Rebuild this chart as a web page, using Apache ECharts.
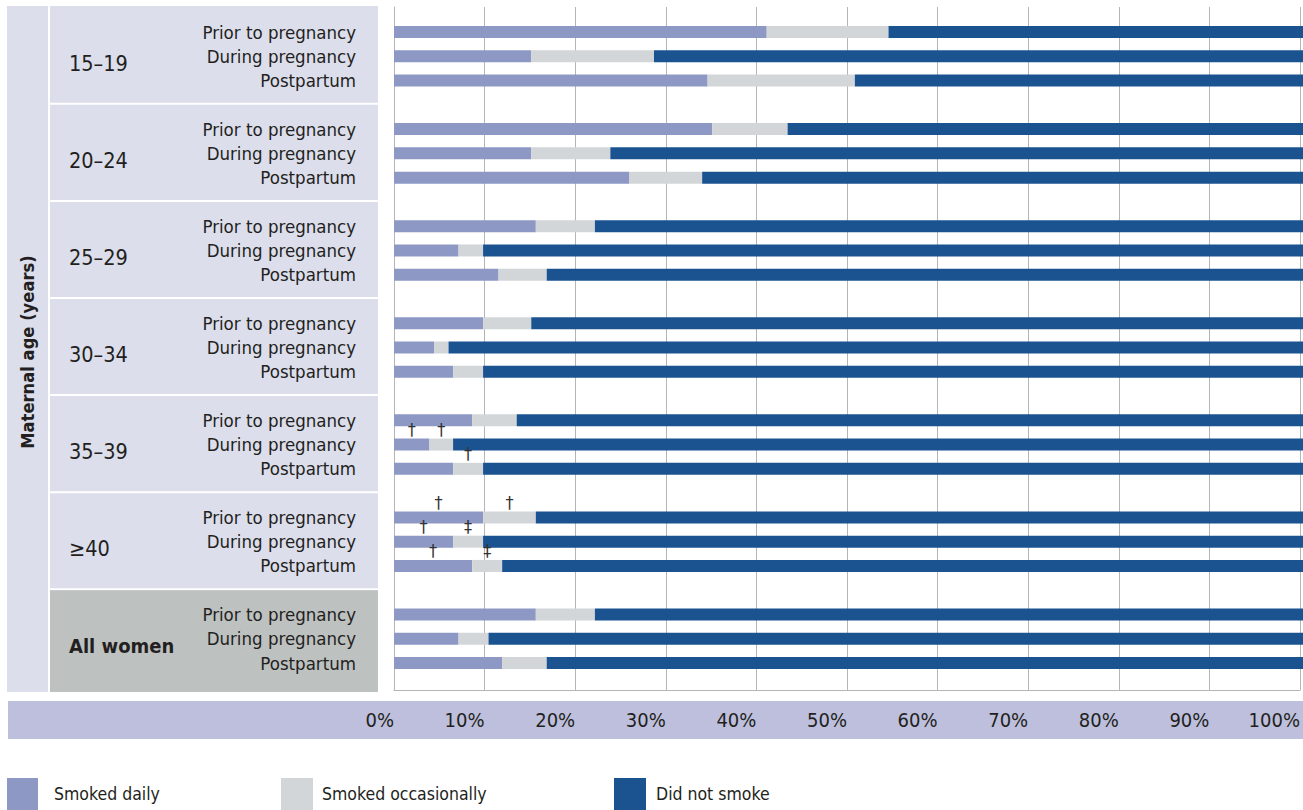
<!DOCTYPE html>
<html>
<head>
<meta charset="utf-8">
<script src="https://cdn.jsdelivr.net/npm/echarts@6/dist/echarts.min.js"></script>
<style>
html,body{margin:0;padding:0;background:#fff;}
#chart{width:1303px;height:810px;}
</style>
</head>
<body>
<div id="chart"></div>
<script>
// ---- data ----
const ageGroups = ["15–19", "20–24", "25–29", "30–34", "35–39", "≥40", "All women"];
const periods = ["Prior to pregnancy", "During pregnancy", "Postpartum"];
const seriesNames = ["Smoked daily", "Smoked occasionally", "Did not smoke"];
const tickLabels = ["0%", "10%", "20%", "30%", "40%", "50%", "60%", "70%", "80%", "90%", "100%"];
// values in %, ordered by age group, then period
const smokedDaily = [41.0, 15.1, 34.5, 35.0, 15.1, 25.9, 15.6, 7.1, 11.5, 9.8, 4.4, 6.5, 8.6, 3.9, 6.5, 9.8, 6.5, 8.6, 15.6, 7.1, 11.9];
const smokedOccasionally = [13.4, 13.5, 16.2, 8.3, 8.7, 8.0, 6.5, 2.7, 5.3, 5.3, 1.6, 3.3, 4.9, 2.6, 3.3, 5.8, 3.3, 3.3, 6.5, 3.3, 4.9];
const didNotSmoke = [45.6, 71.4, 49.3, 56.7, 76.2, 66.1, 77.9, 90.2, 83.2, 84.9, 94.0, 90.2, 86.5, 93.5, 90.2, 84.4, 90.2, 88.1, 77.9, 89.6, 83.2];
// footnote markers
const dailyMarks = ["", "", "", "", "", "", "", "", "", "", "", "", "", "†", "", "†", "†", "†", "", "", ""];
const occasionalMarks = ["", "", "", "", "", "", "", "", "", "", "", "", "", "†", "†", "†", "‡", "‡", "", "", ""];

// ---- build rows (with a blank slot between groups) ----
const rows = [];
const rowSrc = [];
ageGroups.forEach((g, gi) => {
  periods.forEach((p, pi) => { rows.push(g + "|" + p); rowSrc.push(gi * periods.length + pi); });
  if (gi < ageGroups.length - 1) { rows.push("gap" + gi); rowSrc.push(-1); }
});
const pick = arr => rowSrc.map(i => i < 0 ? "-" : arr[i]);
const pickMark = arr => rowSrc.map(i => i < 0 ? "" : arr[i]);
const dMarks = pickMark(dailyMarks), oMarks = pickMark(occasionalMarks);

// ---- layout ----
const W = 1303, H = 810;
const plotLeft = 394;
const pitch = 24.27;
const barTop = 19.87;
const barHeight = pitch * rows.length;
const frameTop = 7, frameBottom = 690;
const colors = ["#8d99c4", "#d3d6d8", "#1b5391"];
const FONT = '"Liberation Sans Narrow", "DejaVu Sans Condensed", "Roboto", sans-serif';
const rowY = i => barTop + pitch * (i + 0.5);

const graphics = [];
graphics.push({type: "rect", z: 0, shape: {x: 7, y: 6, width: 371, height: 686}, style: {fill: "#dcdeec"}});
graphics.push({type: "rect", z: 0, shape: {x: 48, y: 6, width: 2, height: 686}, style: {fill: "#ffffff"}});
let rIdx = 0;
ageGroups.forEach((g, gi) => {
  const first = rIdx, mid = rIdx + 1;
  rIdx += periods.length + 1;
  const last = gi === ageGroups.length - 1;
  if (!last) {
    const sepY = rowY(first + periods.length) - 2;
    graphics.push({type: "rect", z: 0, shape: {x: 50, y: sepY, width: 328, height: 2}, style: {fill: "#ffffff"}});
  } else {
    const topY = rowY(first - 1);
    graphics.push({type: "rect", z: 0, shape: {x: 50, y: topY, width: 328, height: 692 - topY}, style: {fill: "#bdc1c0"}});
  }
  graphics.push({
    type: "text", z: 5, x: 69, y: rowY(mid) + 7,
    style: {
      text: g, fill: "#231f20", font: (last ? "bold 20px " : "21.5px ") + FONT,
      verticalAlign: "middle", align: "left"
    }
  });
});
graphics.push({
  type: "text", z: 5, x: 27, y: 352, rotation: Math.PI / 2,
  style: {text: "Maternal age (years)", fill: "#231f20", font: "bold 18.2px " + FONT, align: "center", verticalAlign: "middle"}
});
graphics.push({type: "rect", z: 0, shape: {x: 8, y: 701, width: W - 8, height: 38}, style: {fill: "#bdbfdc"}});

const chart = echarts.init(document.getElementById("chart"), null, {renderer: "svg", width: W, height: H});

const markLabel = marks => ({
  show: true, position: "top", distance: 0,
  formatter: p => marks[p.dataIndex] || "",
  color: "#333333", fontSize: 18, fontFamily: "DejaVu Sans Condensed"
});

chart.setOption({
  animation: false,
  backgroundColor: "#ffffff",
  textStyle: {fontFamily: FONT},
  grid: [
    {left: plotLeft, right: 0, top: barTop, height: barHeight},
    {left: plotLeft, right: 0, top: frameTop, height: frameBottom - frameTop}
  ],
  xAxis: [
    {gridIndex: 0, type: "value", min: 0, max: 100, show: false},
    {
      gridIndex: 1, type: "value", min: 0, max: 100, interval: 10, z: 1,
      axisLine: {show: true, lineStyle: {color: "#b3b5b7", width: 1}},
      axisTick: {show: false},
      splitLine: {show: true, lineStyle: {color: "#b3b5b7", width: 1}},
      axisLabel: {
        formatter: v => tickLabels[Math.round(v / 10)], align: "right", verticalAlign: "middle",
        margin: 30, fontSize: 20, color: "#231f20", fontFamily: FONT, showMaxLabel: true, showMinLabel: true
      }
    }
  ],
  yAxis: [
    {
      gridIndex: 0, type: "category", inverse: true, data: rows, z: 4,
      axisLine: {show: false}, axisTick: {show: false}, splitLine: {show: false},
      axisLabel: {
        interval: 0, margin: 38, fontSize: 18.5, color: "#231f20", fontFamily: FONT,
        formatter: v => v.startsWith("gap") ? "" : v.split("|")[1]
      }
    },
    {
      gridIndex: 1, type: "value", min: 0, max: 1, z: 1,
      axisLine: {show: true, lineStyle: {color: "#b3b5b7", width: 1}},
      axisTick: {show: false}, axisLabel: {show: false}, splitLine: {show: false}
    }
  ],
  legend: seriesNames.map((n, i) => ({
    data: [n], left: [7, 281, 614][i], top: 778, padding: 0, itemWidth: [31, 32, 32][i], itemHeight: 32,
    icon: "rect", selectedMode: false,
    textStyle: {fontSize: 17.5, color: "#231f20", fontFamily: FONT, padding: [0, 0, 0, [11, 4, 5][i]]}
  })),
  graphic: {elements: graphics},
  series: [
    {name: seriesNames[0], type: "bar", stack: "s", barWidth: 12, xAxisIndex: 0, yAxisIndex: 0,
     itemStyle: {color: colors[0]}, data: pick(smokedDaily), label: markLabel(dMarks)},
    {name: seriesNames[1], type: "bar", stack: "s", barWidth: 12, xAxisIndex: 0, yAxisIndex: 0,
     itemStyle: {color: colors[1]}, data: pick(smokedOccasionally), label: markLabel(oMarks)},
    {name: seriesNames[2], type: "bar", stack: "s", barWidth: 12, xAxisIndex: 0, yAxisIndex: 0,
     itemStyle: {color: colors[2]}, data: pick(didNotSmoke)}
  ]
});
</script>
</body>
</html>
